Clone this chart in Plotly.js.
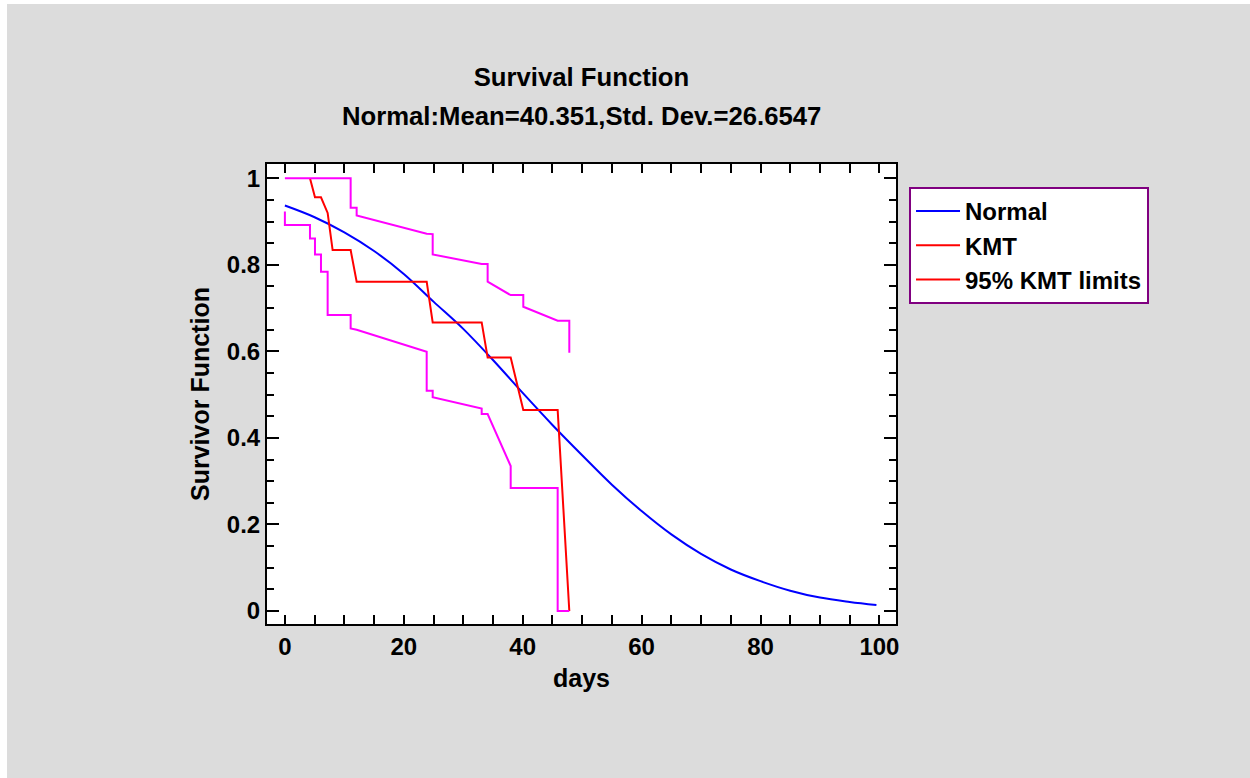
<!DOCTYPE html>
<html>
<head>
<meta charset="utf-8">
<script src="https://cdn.plot.ly/plotly-3.0.1.min.js"></script>
<style>
  html, body { margin: 0; padding: 0; background: #ffffff; }
  #chart { position: absolute; left: 7px; top: 4px; width: 1243px; height: 774px; }
</style>
</head>
<body>
<div id="chart"></div>
<script>
// Normal fitted survivor function
const normalDays = [0, 5, 10, 15, 20, 25, 30, 35, 40, 45, 50, 55, 60, 65, 70, 75, 80, 85, 90, 95, 99.5];
const normalSurv = [0.937, 0.910, 0.875, 0.832, 0.779, 0.715, 0.652, 0.580, 0.504, 0.430, 0.360, 0.292, 0.231, 0.177, 0.132, 0.096, 0.069, 0.047, 0.031, 0.021, 0.014];

// Kaplan-Meier (KMT) estimate
const kmtDays = [4.22, 5.06, 6.07, 7.19, 8.03, 11.06, 12.07, 23.85, 24.86, 33.1, 34.1, 37.98, 40.1, 45.88, 47.84];
const kmtSurv = [1.0, 0.956, 0.956, 0.920, 0.834, 0.834, 0.761, 0.761, 0.667, 0.667, 0.586, 0.586, 0.4645, 0.4645, 0.0];

// 95% KMT limits - upper
const upperDays = [0, 11.06, 11.06, 12.07, 12.07, 23.85, 24.86, 24.86, 33.1, 34.1, 34.1, 37.98, 40.1, 40.1, 45.88, 47.84, 47.84];
const upperSurv = [1.0, 1.0, 0.932, 0.932, 0.914, 0.872, 0.871, 0.824, 0.802, 0.802, 0.761, 0.730, 0.730, 0.703, 0.671, 0.671, 0.597];

// 95% KMT limits - lower
const lowerDays = [0, 0, 4.22, 4.22, 5.06, 5.06, 6.07, 6.07, 7.19, 7.19, 11.06, 11.06, 12.07, 23.85, 23.85, 24.86, 24.86, 33.1, 33.1, 34.1, 37.98, 37.98, 45.88, 45.88, 47.84];
const lowerSurv = [0.923, 0.892, 0.892, 0.861, 0.861, 0.824, 0.824, 0.784, 0.784, 0.684, 0.684, 0.653, 0.650, 0.599, 0.509, 0.509, 0.494, 0.468, 0.455, 0.455, 0.335, 0.284, 0.284, 0.0, 0.0];

const titleLine1 = 'Survival Function';
const titleLine2 = 'Normal:Mean=40.351,Std. Dev.=26.6547';
const xTitle = 'days';
const yTitle = 'Survivor Function';
const seriesNames = ['Normal', 'KMT', '95% KMT limits'];

const FONT = 'Liberation Sans, Arial, Helvetica, sans-serif';

const traces = [
  { x: normalDays, y: normalSurv, mode: 'lines', name: seriesNames[0],
    line: { color: '#0000ff', width: 2, shape: 'spline', smoothing: 1 } },
  { x: kmtDays, y: kmtSurv, mode: 'lines', name: seriesNames[1],
    line: { color: '#ff0000', width: 2 } },
  { x: upperDays, y: upperSurv, mode: 'lines', name: seriesNames[2], showlegend: false,
    line: { color: '#ff00ff', width: 2 } },
  { x: lowerDays, y: lowerSurv, mode: 'lines', name: seriesNames[2], showlegend: false,
    line: { color: '#ff00ff', width: 2 } },
  { x: [null], y: [null], mode: 'lines', name: seriesNames[2],
    line: { color: '#ff0000', width: 2 } }
];

const axisCommon = {
  showline: true, linecolor: '#000000', linewidth: 2, mirror: 'allticks',
  ticks: 'inside', tickcolor: '#000000', tickwidth: 2,
  showgrid: false, zeroline: false,
  tickfont: { family: FONT, size: 24, color: '#000000', weight: 700 },
  automargin: false
};

const layout = {
  width: 1243, height: 774,
  paper_bgcolor: '#dcdcdc', plot_bgcolor: '#ffffff',
  margin: { l: 260, r: 354, t: 160, b: 154, pad: 0 },
  font: { family: FONT, color: '#000000' },
  title: {
    text: titleLine1,
    font: { family: FONT, size: 25.7, color: '#000000', weight: 700 },
    xref: 'paper', x: 0.5, xanchor: 'center',
    yref: 'container', y: 0.906, yanchor: 'middle'
  },
  annotations: [{
    text: titleLine2, showarrow: false,
    xref: 'paper', x: 0.5, xanchor: 'center',
    yref: 'paper', y: 1.104, yanchor: 'middle',
    font: { family: FONT, size: 25.7, color: '#000000', weight: 700 }
  }],
  xaxis: Object.assign({}, axisCommon, {
    range: [-3.01, 102.79],
    tickmode: 'linear', tick0: 0, dtick: 20, ticklen: 9,
    minor: { tickmode: 'linear', tick0: 0, dtick: 5, ticks: 'inside', ticklen: 9, tickwidth: 2, tickcolor: '#000000' },
    title: { text: xTitle, standoff: 11, font: { family: FONT, size: 25, color: '#000000', weight: 700 } }
  }),
  yaxis: Object.assign({}, axisCommon, {
    range: [-0.030, 1.033],
    tickmode: 'linear', tick0: 0, dtick: 0.2, ticklen: 12,
    minor: { tickmode: 'linear', tick0: 0, dtick: 0.05, ticks: 'inside', ticklen: 7, tickwidth: 2, tickcolor: '#000000' },
    title: { text: yTitle, standoff: 10, font: { family: FONT, size: 25, color: '#000000', weight: 700 } }
  }),
  legend: {
    x: 1.0207, xanchor: 'left', y: 0.95, yanchor: 'top',
    bgcolor: '#ffffff', bordercolor: '#800080', borderwidth: 2,
    font: { family: FONT, size: 24, color: '#000000', weight: 700 },
    itemwidth: 44,
    tracegroupgap: 0
  },
  showlegend: true
};

Plotly.newPlot('chart', traces, layout, { displayModeBar: false, staticPlot: true });
</script>
</body>
</html>
